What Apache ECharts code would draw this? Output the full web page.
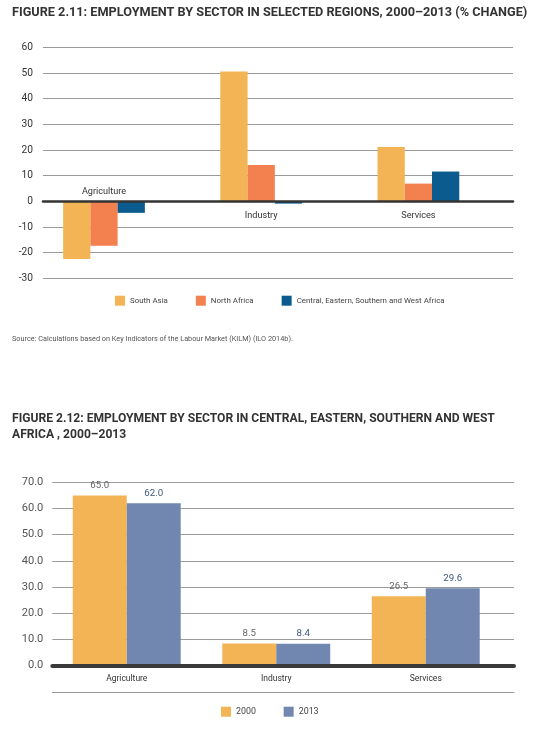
<!DOCTYPE html>
<html><head><meta charset="utf-8">
<script src="https://cdn.jsdelivr.net/npm/echarts@6/dist/echarts.min.js"></script>
<style>html,body{margin:0;padding:0;background:#fff}#c{width:544px;height:737px}</style>
</head><body><div id="c"></div>
<script>
// ---- Figure 2.11 data (% change 2000-2013) ----
const sectors = ['Agriculture', 'Industry', 'Services'];
const southAsia = [-22.5, 50.6, 21.2];
const northAfrica = [-17.3, 14.1, 6.9];
const ceswAfrica = [-4.5, -0.9, 11.6];
const fig1Series = ['South Asia', 'North Africa', 'Central, Eastern, Southern and West Africa'];
const fig1Min = -30, fig1Max = 60, fig1Step = 10;

// ---- Figure 2.12 data (share of employment) ----
const years = ['2000', '2013'];
const share2000 = [65.0, 8.5, 26.5];
const share2013 = [62.0, 8.4, 29.6];
const fig2Min = 0, fig2Max = 70, fig2Step = 10;

const title1 = 'FIGURE 2.11: EMPLOYMENT BY SECTOR IN SELECTED REGIONS, 2000\u20132013 (% CHANGE)';
const title2a = 'FIGURE 2.12: EMPLOYMENT BY SECTOR IN CENTRAL, EASTERN, SOUTHERN AND WEST';
const title2b = 'AFRICA , 2000\u20132013';
const sourceText = 'Source: Calculations based on Key Indicators of the Labour Market (KILM) (ILO 2014b).';

const FONT = 'Roboto, "DejaVu Sans Condensed", sans-serif';
const C_YEL = '#F3B455', C_COR = '#F3804F', C_BLU = '#0B5B8F', C_SLA = '#7187B0';

// font sizes fitted so the text widths match the reference
const _ctx = document.createElement('canvas').getContext('2d');
function fitSize(text, weight, targetW) {
  _ctx.font = weight + ' 100px ' + FONT;
  return Math.round(1000 * targetW / _ctx.measureText(text).width) / 10;
}
const fsTitle1 = fitSize(title1, 'bold', 515);
const fsTitle2 = fitSize(title2a, 'bold', 485);
const fsSource = fitSize(sourceText, 'normal', 282);
const fsLeg1 = fitSize(fig1Series[2], 'normal', 148);
const fsCat1 = fitSize('Agriculture', 'normal', 44);
const fsCat2 = fitSize('Agriculture', 'normal', 41);
const fsY1 = fitSize('-30', 'normal', 14.3);
const fsY2 = fitSize('70.0', 'normal', 21.6);
const fsLab2 = fitSize('65.0', 'normal', 19);
const fsLeg2 = fitSize('2000', 'normal', 20);

const chart = echarts.init(document.getElementById('c'), null, {renderer: 'canvas'});
const hiddenY = (g, mn, mx, st) => ({gridIndex: g, type: 'value', min: mn, max: mx, interval: st, show: false});
const noLine = {show: false};
const noTick = {show: false};

const barL = 25.4, barW = 471.6;       // figure 2.11 bar band
const g1Top = 47.3, g1H = 231;
const zeroY = g1Top + g1H * fig1Max / (fig1Max - fig1Min);

chart.setOption({
  animation: false,
  backgroundColor: '#fff',
  title: [
    {text: title1, left: 12, top: 4.5, padding: 0, textStyle: {fontFamily: FONT, fontWeight: 'bold', fontSize: fsTitle1, color: '#333', lineHeight: 16}},
    {text: sourceText, left: 12, top: 333.5, padding: 0, textStyle: {fontFamily: FONT, fontWeight: 'normal', fontSize: fsSource, color: '#555', lineHeight: 12}},
    {text: title2a + '\n' + title2b, left: 12, top: 411.3, padding: 0, textStyle: {fontFamily: FONT, fontWeight: 'bold', fontSize: fsTitle2, color: '#333', lineHeight: 16}}
  ],
  legend: [
    {data: fig1Series, left: 115, top: 295.7, padding: 0, icon: 'rect', itemWidth: 10, itemHeight: 10, itemGap: 28,
     textStyle: {fontFamily: FONT, fontSize: fsLeg1, color: '#444'}},
    {data: years, left: 221, top: 706.7, padding: 0, icon: 'rect', itemWidth: 10, itemHeight: 10, itemGap: 27.7,
     textStyle: {fontFamily: FONT, fontSize: fsLeg2, color: '#444'}}
  ],
  grid: [
    {left: 43, right: 31, top: g1Top, height: g1H},                 // 0: fig 2.11 axis + gridlines
    {left: barL, width: barW, top: g1Top, height: g1H},             // 1: fig 2.11 bars
    {left: 52.3, right: 30, top: 482.3, height: 183.4},             // 2: fig 2.12 axis + gridlines
    {left: 52, width: 448.5, top: 482.3, height: 183.4},            // 3: fig 2.12 bars
    {left: barL, width: barW, top: g1Top, height: zeroY - g1Top},   // 4: labels below zero line
    {left: barL, width: barW, top: zeroY, height: g1Top + g1H - zeroY} // 5: label above zero line
  ],
  xAxis: [
    {gridIndex: 0, type: 'category', data: [''], z: 5,
     axisLine: {onZero: true, lineStyle: {color: '#333', width: 2.5}}, axisTick: noTick, axisLabel: {show: false}, splitLine: {show: false}},
    {gridIndex: 1, type: 'category', data: sectors, show: false},
    {gridIndex: 2, type: 'category', data: [''], position: 'bottom', z: 5,
     axisLine: {lineStyle: {color: '#3a3a3a', width: 4}}, axisTick: noTick, axisLabel: {show: false}},
    {gridIndex: 2, type: 'category', data: [''], position: 'bottom', offset: 26.6,
     axisLine: {onZero: false, lineStyle: {color: '#999', width: 1}}, axisTick: noTick, axisLabel: {show: false}},
    {gridIndex: 3, type: 'category', data: sectors, position: 'bottom',
     axisLine: noLine, axisTick: noTick,
     axisLabel: {margin: 9, fontFamily: FONT, fontSize: fsCat2, color: '#333'}},
    {gridIndex: 4, type: 'category', data: sectors, position: 'bottom',
     axisLine: noLine, axisTick: noTick,
     axisLabel: {margin: 10, fontFamily: FONT, fontSize: fsCat1, color: '#333', formatter: v => v === 'Agriculture' ? '' : v}},
    {gridIndex: 5, type: 'category', data: sectors, position: 'top',
     axisLine: noLine, axisTick: noTick,
     axisLabel: {margin: 5, fontFamily: FONT, fontSize: fsCat1, color: '#333', formatter: v => v === 'Agriculture' ? v : ''}}
  ],
  yAxis: [
    {gridIndex: 0, type: 'value', min: fig1Min, max: fig1Max, interval: fig1Step,
     axisLine: noLine, axisTick: noTick,
     axisLabel: {margin: 10, fontFamily: FONT, fontSize: fsY1, color: '#333'},
     splitLine: {lineStyle: {color: '#9a9a9a', width: 1}}},
    hiddenY(1, fig1Min, fig1Max, fig1Step),
    {gridIndex: 2, type: 'value', min: fig2Min, max: fig2Max, interval: fig2Step,
     axisLine: noLine, axisTick: noTick,
     axisLabel: {margin: 9, fontFamily: FONT, fontSize: fsY2, color: '#555', formatter: v => v.toFixed(1)},
     splitLine: {lineStyle: {color: '#9a9a9a', width: 1}}},
    hiddenY(3, fig2Min, fig2Max, fig2Step),
    hiddenY(4, 0, 1, 1),
    hiddenY(5, 0, 1, 1)
  ],
  series: [
    {name: fig1Series[0], type: 'bar', xAxisIndex: 1, yAxisIndex: 1, data: southAsia, itemStyle: {color: C_YEL}, barGap: '0%', barCategoryGap: '48%'},
    {name: fig1Series[1], type: 'bar', xAxisIndex: 1, yAxisIndex: 1, data: northAfrica, itemStyle: {color: C_COR}, barGap: '0%', barCategoryGap: '48%'},
    {name: fig1Series[2], type: 'bar', xAxisIndex: 1, yAxisIndex: 1, data: ceswAfrica, itemStyle: {color: C_BLU}, barGap: '0%', barCategoryGap: '48%'},
    {name: years[0], type: 'bar', xAxisIndex: 4, yAxisIndex: 3, data: share2000, itemStyle: {color: C_YEL}, barGap: '0%', barCategoryGap: '27.8%',
     label: {show: true, position: 'top', distance: 5, fontFamily: FONT, fontSize: fsLab2, color: '#666', formatter: p => p.value.toFixed(1)}},
    {name: years[1], type: 'bar', xAxisIndex: 4, yAxisIndex: 3, data: share2013, itemStyle: {color: C_SLA}, barGap: '0%', barCategoryGap: '27.8%',
     label: {show: true, position: 'top', distance: 5, fontFamily: FONT, fontSize: fsLab2, color: '#3D5880', formatter: p => p.value.toFixed(1)}}
  ]
});
</script></body></html>
